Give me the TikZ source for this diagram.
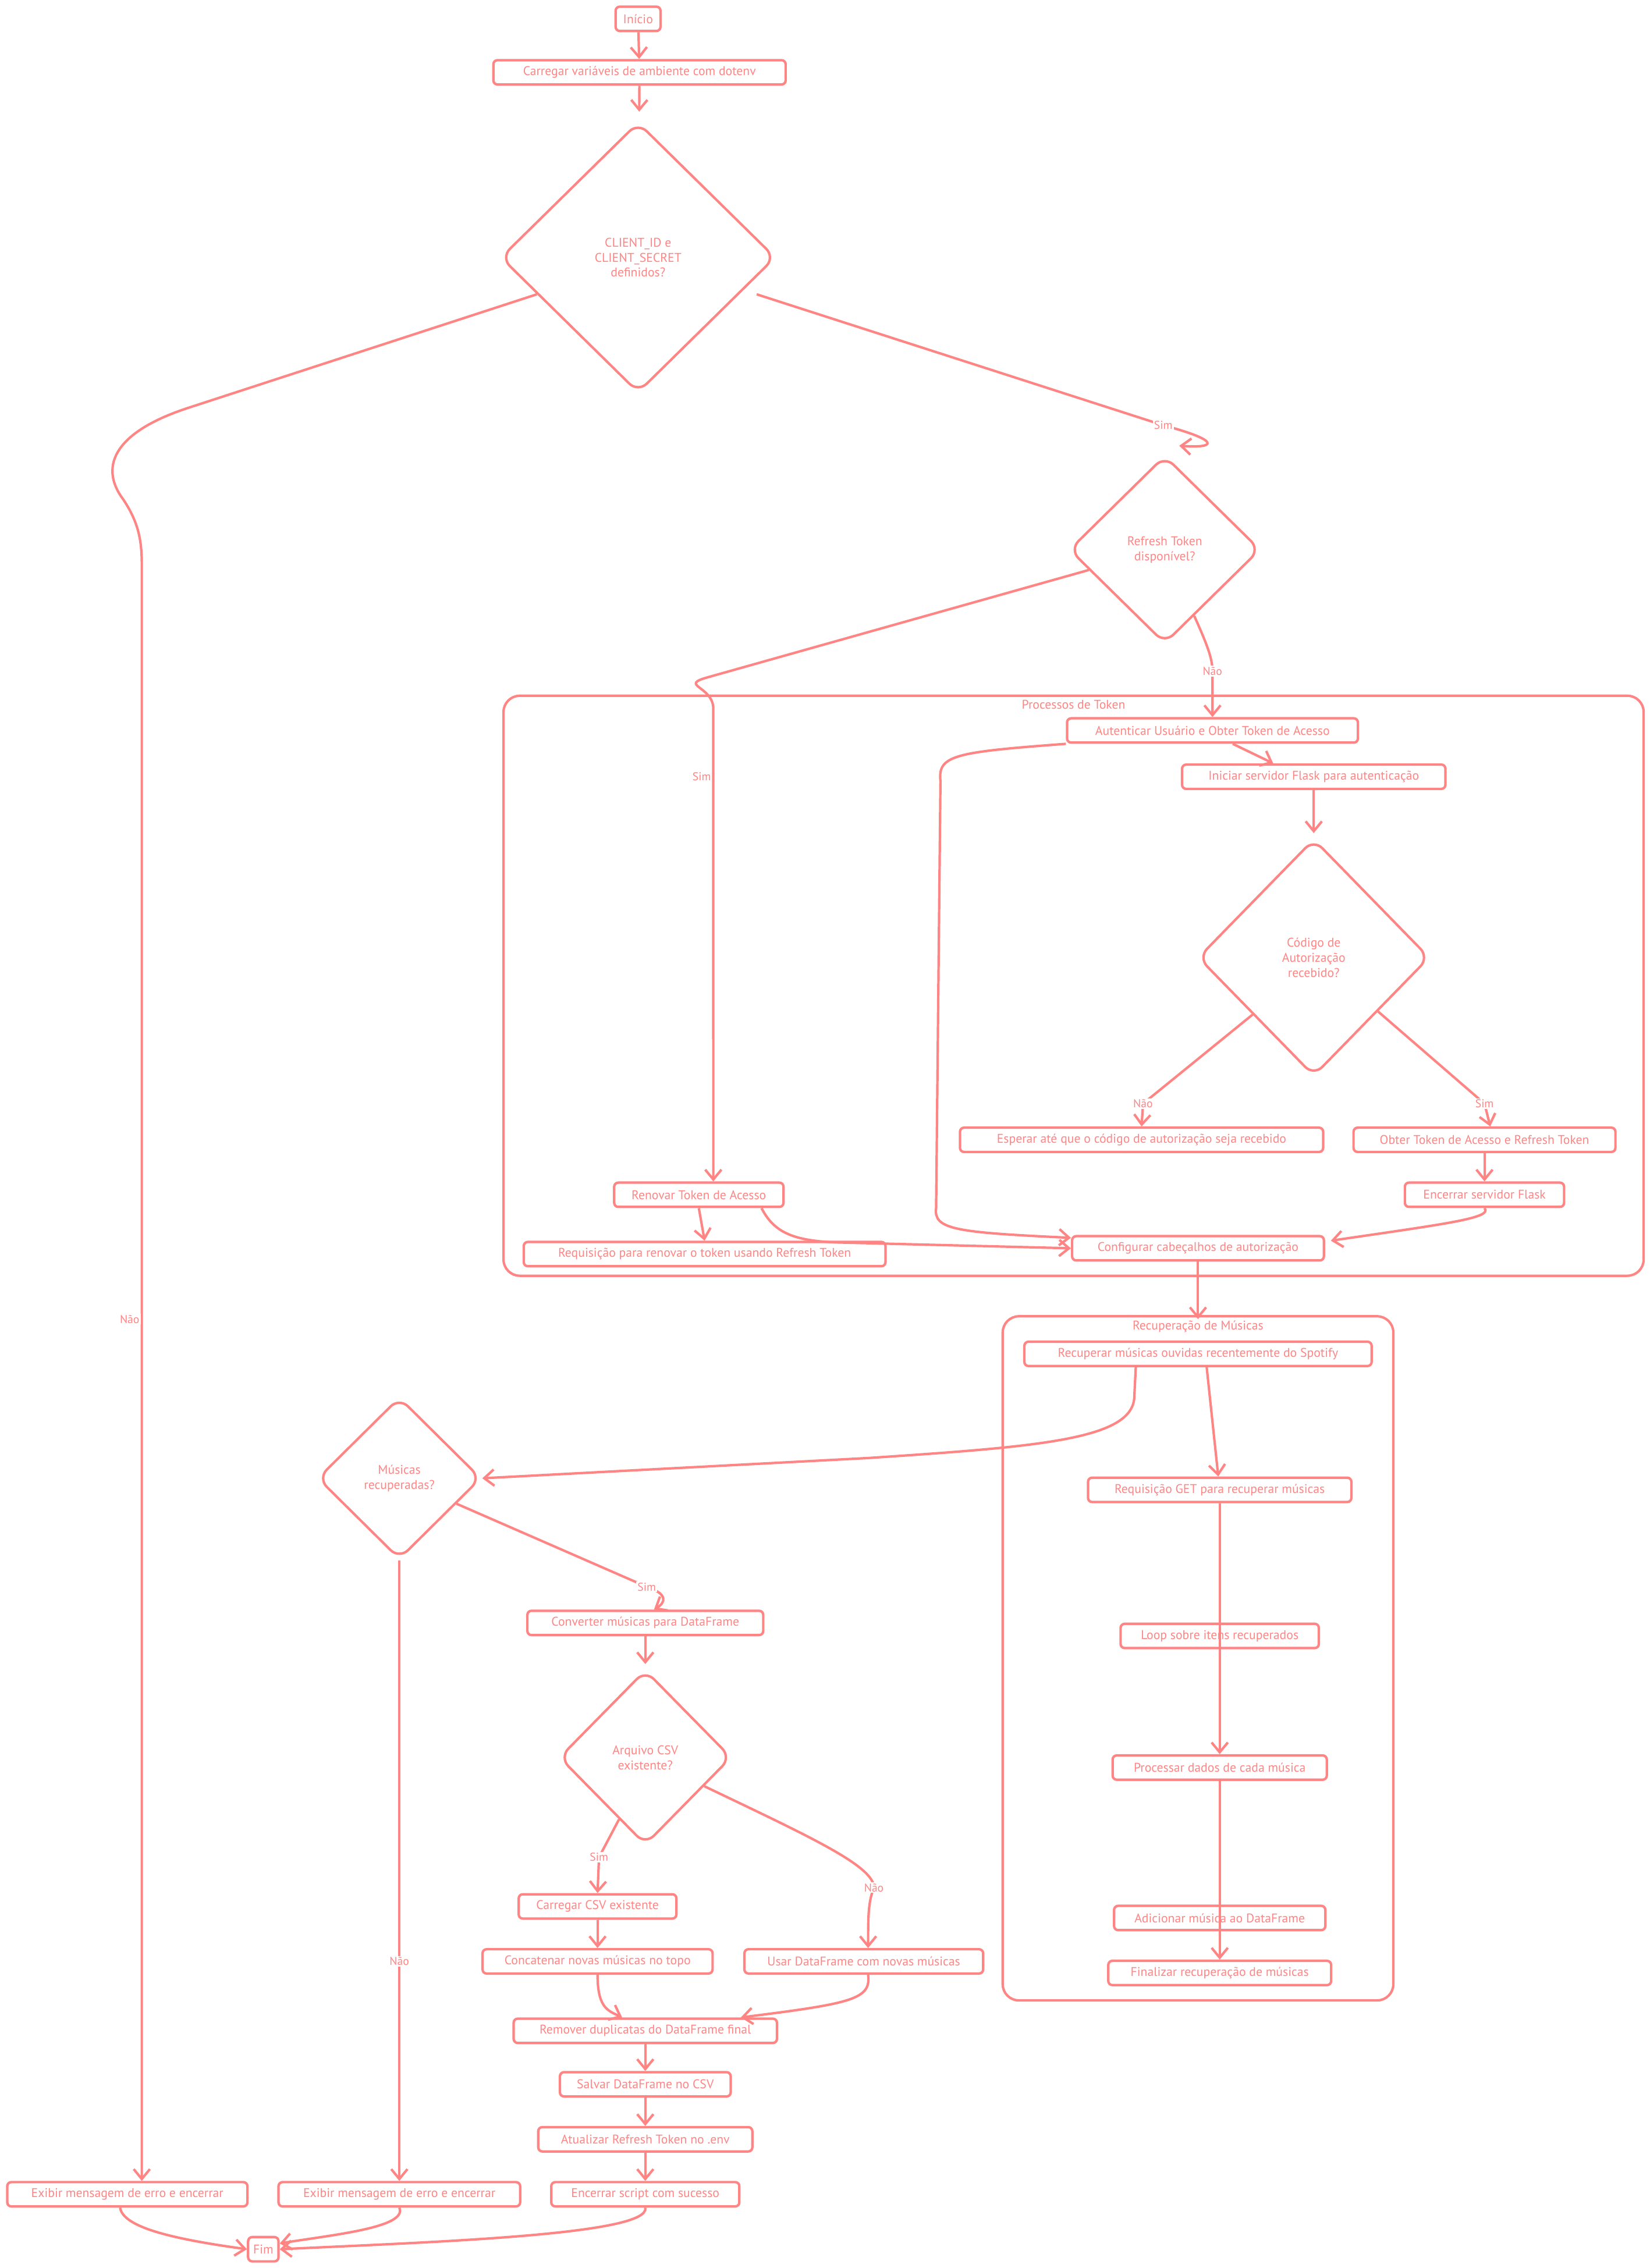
\documentclass[tikz,border=0pt]{standalone}
\usepackage{fontspec}
\setmainfont{PT Sans}
\usepackage{xcolor}
\usetikzlibrary{positioning,calc,shapes,arrows.meta}
\definecolor{flowred}{HTML}{FF8585}

\begin{document}
\begin{tikzpicture}[x=0.025cm,y=-0.025cm,
		every node/.style={text=flowred,font=\fontsize{6.2}{7.4}\selectfont},
		box/.style={draw=flowred,line width=1.2pt,rounded corners=2pt,fill=white,inner sep=1pt,minimum height=0.42cm,minimum width=#1*0.025cm},
		choice/.style n args={2}{diamond,draw=flowred,line width=1.2pt,rounded corners=6pt,align=center,inner sep=0pt,minimum width=#1*0.025cm,minimum height=#2*0.025cm},
		group/.style={draw=flowred,line width=1.2pt,rounded corners=8pt},
		flow/.style={draw=flowred,line width=1.2pt,-{Straight Barb[length=1.7mm,width=2.8mm]}},
		lbl/.style={fill=white,inner sep=0.6pt,font=\fontsize{5.6}{6.4}\selectfont}]
			\fill[white] (0,0) rectangle (1140,1568);
			\useasboundingbox (0,0) rectangle (1140,1568);
			\draw[group] (348,481) rectangle (1136,882);
			\node (tokentitle) at (742,487) {Processos de Token};
			\draw[group] (693,910) rectangle (963,1383);
			\node (musictitle) at (828,917) {Recuperação de Músicas};
			\node[box=31] (inicio) at (441,13) {Início};
			\node[box=202] (carrega) at (442,50) {Carregar variáveis de ambiente com dotenv};
			\node[choice={190}{187}] (d1) at (441,178) {CLIENT\_ID e\\CLIENT\_SECRET\\definidos?};
			\node[choice={132}{130}] (d2) at (805,380) {Refresh Token\\disponível?};
			\node[box=201] (autentica) at (838,505) {Autenticar Usuário e Obter Token de Acesso};
			\node[box=182] (inicia) at (908,537) {Iniciar servidor Flask para autenticação};
			\node[choice={160}{164}] (d3) at (908,662) {Código de\\Autorização\\recebido?};
			\node[box=251] (espera) at (789,788) {Esperar até que o código de autorização seja recebido};
			\node[box=181] (obter) at (1026,788) {Obter Token de Acesso e Refresh Token};
			\node[box=110] (flask) at (1026,826) {Encerrar servidor Flask};
			\node[box=117] (renova) at (483,826) {Renovar Token de Acesso};
			\node[box=250] (requisicao) at (487,867) {Requisição para renovar o token usando Refresh Token};
			\node[box=174] (config) at (828,863) {Configurar cabeçalhos de autorização};
			\node[box=240] (recupera) at (828,936) {Recuperar músicas ouvidas recentemente do Spotify};
			\node[box=182] (get) at (843,1030) {Requisição GET para recuperar músicas};
			\node[box=137] (loop) at (843,1131) {Loop sobre itens recuperados};
			\node[box=148] (processa) at (843,1222) {Processar dados de cada música};
			\node[box=146] (adiciona) at (843,1326) {Adicionar música ao DataFrame};
			\node[box=154] (finaliza) at (843,1364) {Finalizar recuperação de músicas};
			\node[choice={113}{112}] (musicas) at (276,1022) {Músicas\\recuperadas?};
			\node[box=163] (converte) at (446,1122) {Converter músicas para DataFrame};
			\node[choice={119}{121}] (csv) at (446,1215) {Arquivo CSV\\existente?};
			\node[box=109] (carregacsv) at (413,1318) {Carregar CSV existente};
			\node[box=159] (concatena) at (413,1356) {Concatenar novas músicas no topo};
			\node[box=165] (usa) at (597,1356) {Usar DataFrame com novas músicas};
			\node[box=182] (remove) at (446,1404) {Remover duplicatas do DataFrame final};
			\node[box=118] (salva) at (446,1441) {Salvar DataFrame no CSV};
			\node[box=148] (atualiza) at (446,1479) {Atualizar Refresh Token no .env};
			\node[box=130] (encerra) at (446,1517) {Encerrar script com sucesso};
			\node[box=166] (erro1) at (88,1517) {Exibir mensagem de erro e encerrar};
			\node[box=167] (erro2) at (276,1517) {Exibir mensagem de erro e encerrar};
			\node[box=21] (fim) at (182,1555) {Fim};
			\draw[flow] (inicio) -- (carrega);
			\draw[flow,shorten >=0.18cm] (carrega) -- (d1);
			\draw[flow] (d1.200) -- (130,282) .. controls (75,300) and (70,325) .. (85,345) .. controls (95,360) and (98,372) .. (98,390) -- (98,912) node[lbl,left] {Não} -- ([xshift=0.25cm]erro1.north);
			\draw[flow] ([xshift=0.3cm]d1.-20) -- (804,294) node[lbl] {Sim} .. controls (845,305) and (840,310) .. ([xshift=0.25cm,yshift=0.15cm]d2.north);
			\draw[flow] (d2.195) -- (490,468) .. controls (468,474) and (493,474) .. (493,490) -- (493,537) node[lbl,left] {Sim} -- ([xshift=0.25cm]renova.north);
			\draw[flow] (d2.-66) .. controls (834,445) and (838,455) .. (838,464) node[lbl] {Não} -- (autentica.north);
			\draw[flow] ([xshift=0.35cm]autentica.south) -- ([xshift=-0.7cm]inicia.north);
			\draw[flow] (autentica.south west) .. controls (660,520) and (648,522) .. (650,540) -- (647,835) .. controls (645,850) and (660,852) .. ([yshift=-0.05cm]config.north west);
			\draw[flow,shorten >=0.08cm] (inicia) -- (d3);
			\draw[flow] (d3.223) -- (790,763) node[lbl] {Não} -- (espera.north);
			\draw[flow] (d3.-40) -- (1026,763) node[lbl] {Sim} -- ([xshift=0.1cm]obter.north);
			\draw[flow] (obter) -- (flask);
			\draw[flow] (flask.south) .. controls (1032,842) and (1000,846) .. ([xshift=0.1cm,yshift=-0.1cm]config.north east);
			\draw[flow] (renova.south) -- (requisicao.north);
			\draw[flow] ([xshift=-0.4cm]renova.south east) .. controls (535,852) and (548,858) .. (580,859) -- (config.west);
			\draw[flow,shorten >=0.37cm] (config) -- (recupera);
			\draw[flow] ([xshift=-1.075cm]recupera.south) -- (784,965) .. controls (784,995) and (720,1000) .. (600,1008) -- (musicas.east);
			\draw[flow] ([xshift=0.15cm]recupera.south) -- ([xshift=-0.025cm]get.north);
			\draw[flow] (get.south) -- (processa.north);
			\draw[flow] (processa.south) -- (finaliza.north);
			\draw[flow] (musicas.-24) -- (447,1097) node[lbl] {Sim} .. controls (462,1102) and (460,1108) .. ([xshift=0.15cm]converte.north);
			\draw[flow] (musicas.south) -- (276,1356) node[lbl] {Não} -- (erro2.north);
			\draw[flow,shorten >=0.08cm] (converte) -- (csv);
			\draw[flow] (csv.247) -- (414,1284) node[lbl] {Sim} -- (carregacsv.north);
			\draw[flow] (csv.-26) .. controls (560,1270) and (604,1290) .. (604,1305) node[lbl] {Não} .. controls (600,1315) and (600,1325) .. ([xshift=0.075cm]usa.north);
			\draw[flow] (carregacsv) -- (concatena);
			\draw[flow] (concatena.south) .. controls (413,1388) and (420,1390) .. ([xshift=-0.4cm]remove.north);
			\draw[flow] ([xshift=0.075cm]usa.south) .. controls (602,1382) and (590,1385) .. ([xshift=1.65cm]remove.north);
			\draw[flow] (remove) -- (salva);
			\draw[flow] (salva) -- (atualiza);
			\draw[flow] (atualiza) -- (encerra);
			\draw[flow] ([xshift=-0.125cm]erro1.south) .. controls (85,1540) and (120,1548) .. (fim.west);
			\draw[flow] (erro2.south) .. controls (282,1540) and (230,1545) .. ([yshift=0.1cm]fim.east);
			\draw[flow] (encerra.south) .. controls (450,1545) and (300,1550) .. (fim.east);
		\end{tikzpicture}
\end{document}
